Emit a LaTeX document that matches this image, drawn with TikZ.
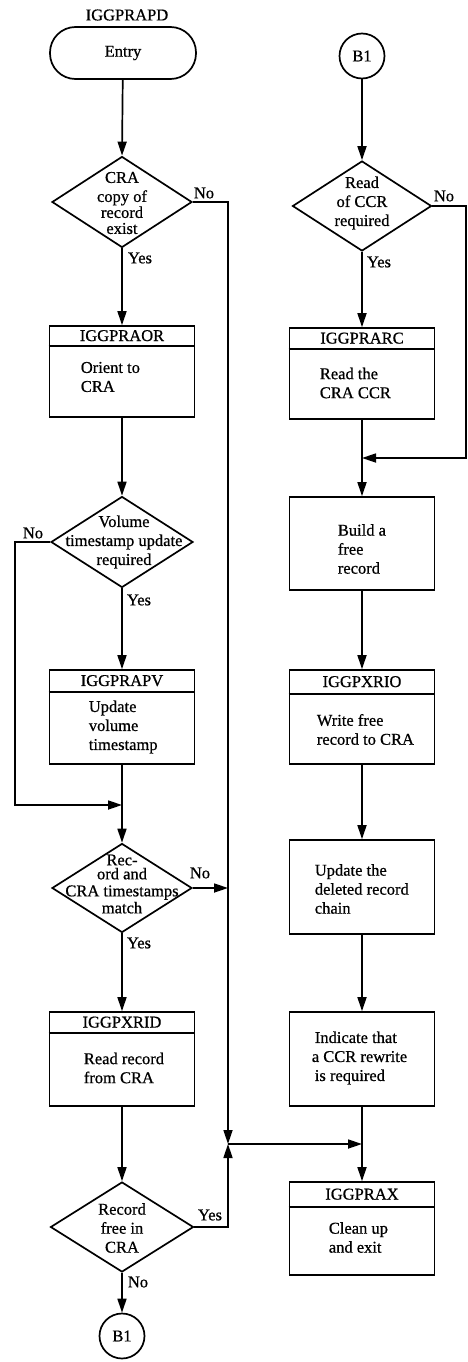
\documentclass[tikz,border=0pt]{standalone}
\usepackage{fontspec}
\setmainfont{Liberation Serif}[FakeBold=0.7]
\usetikzlibrary{arrows.meta,shapes.geometric}
\begin{document}
\begin{tikzpicture}[x=1pt,y=-1pt,
  line width=1.7pt,
  every node/.style={font=\fontsize{16.5}{19}\selectfont, inner sep=0pt, line width=1.7pt},
  flow/.style={-{Triangle[length=14pt,width=9pt]}},
  decision/.style 2 args={draw, diamond, minimum width=#1, minimum height=#2},
  procbox/.style={draw, rectangle, minimum width=145pt, minimum height=#1},
  terminal/.style={draw, rectangle, rounded corners=25.5pt, minimum width=146pt, minimum height=52pt},
  connector/.style={draw, circle, minimum size=45pt},
  body/.style={anchor=west, align=left},
  dtext/.style={align=center}
]
\useasboundingbox (0,0) rectangle (467,1362);

% ---------------- left column ----------------
\node (title) at (127,15) {IGGPRAPD};
\node[terminal] (entry) at (123,53) {Entry};

\node[decision={140pt}{91pt}] (d1) at (122,202) {};
\node[dtext, font=\fontsize{16.5}{16}\selectfont] (d1t) at (122,203) {CRA\\[3pt]copy of\\record\\exist};

\node[procbox=91pt] (b1) at (122,371.5) {};
\draw ([yshift=-21pt]b1.north west) -- ([yshift=-21pt]b1.north east);
\node (b1h) at ([yshift=-10.5pt]b1.north) {IGGPRAOR};
\node[body] (b1t) at (80,377) {Orient to\\CRA};

\node[decision={142pt}{91pt}] (d2) at (122,542) {};
\node[dtext] (d2t) at (124,542) {Volume\\timestamp update\\required};

\node[procbox=94pt] (b2) at (122,717) {};
\draw ([yshift=-23pt]b2.north west) -- ([yshift=-23pt]b2.north east);
\node (b2h) at ([yshift=-11.5pt]b2.north) {IGGPRAPV};
\node[body] (b2t) at (88,727) {Update\\volume\\timestamp};

\node[decision={140pt}{89pt}] (d3) at (122,888) {};
\node[dtext, font=\fontsize{16.5}{17}\selectfont] (d3t) at (122,884) {Rec-\\[-3pt]ord and\\CRA timestamps\\match};

\node[procbox=94pt] (b3) at (122,1059) {};
\draw ([yshift=-22pt]b3.north west) -- ([yshift=-22pt]b3.north east);
\node (b3h) at ([yshift=-11pt]b3.north) {IGGPXRID};
\node[body] (b3t) at (83,1068) {Read record\\from CRA};

\node[decision={143pt}{90pt}] (d4) at (122,1227) {};
\node[dtext] (d4t) at (122,1228) {Record\\free in\\CRA};

\node[connector] (c1) at (122,1336) {B1};

% ---------------- right column ----------------
\node[connector] (c2) at (362,56) {B1};

\node[decision={139pt}{90pt}] (r1) at (362,206) {};
\node[dtext] (r1t) at (362,203) {Read\\of CCR\\required};

\node[procbox=91pt] (rb1) at (362,373.5) {};
\draw ([yshift=-22pt]rb1.north west) -- ([yshift=-22pt]rb1.north east);
\node (rb1h) at ([yshift=-11pt]rb1.north) {IGGPRARC};
\node[body] (rb1t) at (319,383) {Read the\\CRA CCR};

\node[procbox=93pt] (rb2) at (362,543.5) {};
\node[body] (rb2t) at (337,549) {Build a\\free\\record};

\node[procbox=94pt] (rb3) at (362,717) {};
\draw ([yshift=-25pt]rb3.north west) -- ([yshift=-25pt]rb3.north east);
\node (rb3h) at ([yshift=-12.5pt]rb3.north) {IGGPXRIO};
\node[body] (rb3t) at (316,729.5) {Write free\\record to CRA};

\node[procbox=94pt] (rb4) at (362,887) {};
\node[body] (rb4t) at (314,889) {Update the\\deleted record\\chain};

\node[procbox=94pt] (rb5) at (362,1059) {};
\node[body] (rb5t) at (314,1058) {Indicate that\\\hspace*{-3pt}a CCR rewrite\\is required};

\node[procbox=93pt] (rb6) at (362,1228.5) {};
\draw ([yshift=-26pt]rb6.north west) -- ([yshift=-26pt]rb6.north east);
\node (rb6h) at ([yshift=-13pt]rb6.north) {IGGPRAX};
\node[body] (rb6t) at (328,1237.5) {Clean up\\and exit};

% ---------------- branch labels ----------------
\node (d1no)  at (204,193)  {No};
\node (d1yes) at (140,258)  {Yes};
\node (d2no)  at (33,533)   {No};
\node (d2yes) at (139,600)  {Yes};
\node (d3no)  at (200,873)  {No};
\node (d3yes) at (139,943)  {Yes};
\node (d4yes) at (210,1215) {Yes};
\node (d4no)  at (138,1282) {No};
\node (r1no)  at (444,196)  {No};
\node (r1yes) at (379,262)  {Yes};

% ---------------- junction points ----------------
\coordinate (j)  at (228,1144);
\coordinate (k)  at (362,1144);
\coordinate (w2) at (15,805);
\coordinate (m2) at (122,805);
\coordinate (e1) at (465.8,458);
\coordinate (m1) at (362,458);

% ---------------- connectors ----------------
\draw[flow] (entry) -- (d1.north);
\draw[flow] (d1.south) -- (b1.north);
\draw[flow] (d1.east) -| (j);
\draw[flow] (b1) -- (d2.north);
\draw[flow] (d2.south) -- (b2.north);
\draw[flow] (d2.west) -| (w2) -- (m2);
\draw[flow] (b2) -- (d3.north);
\draw[flow] (d3.east) -- (d3.east -| j);
\draw[flow] (d3.south) -- (b3.north);
\draw[flow] (b3) -- (d4.north);
\draw[flow] (d4.east) -| (j);
\draw[flow] (d4.south) -- (c1);
\draw[flow] (j) -- (k);

\draw[flow] (c2) -- (r1.north);
\draw[flow] (r1.south) -- (rb1.north);
\draw[flow] (r1.east) -| (e1) -- (m1);
\draw[flow] (rb1) -- (rb2);
\draw[flow] (rb2) -- (rb3);
\draw[flow] (rb3) -- (rb4);
\draw[flow] (rb4) -- (rb5);
\draw[flow] (rb5) -- (rb6);
\end{tikzpicture}
\end{document}
